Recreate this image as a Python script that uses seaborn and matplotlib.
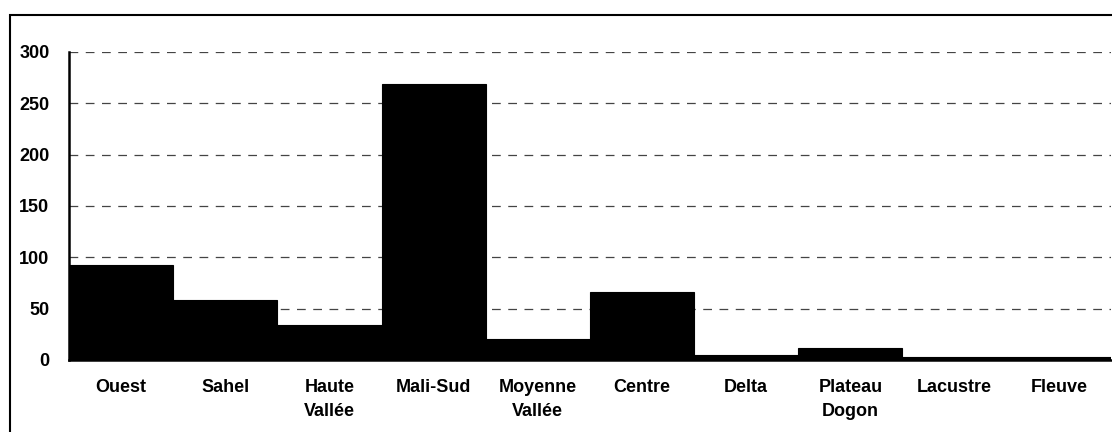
import matplotlib
matplotlib.use("Agg")
import matplotlib.pyplot as plt
import matplotlib.patches as patches
import numpy as np
import pandas as pd
import seaborn as sns

# Data
regions = ["Ouest", "Sahel", "Haute\nVallée", "Mali-Sud", "Moyenne\nVallée",
           "Centre", "Delta", "Plateau\nDogon", "Lacustre", "Fleuve"]
counts = [92, 58, 34, 269, 20, 66, 5, 12, 3, 3]
y_ticks = [0, 50, 100, 150, 200, 250, 300]

sns.set_theme(style="white")
plt.rcParams['font.family'] = ['Liberation Sans', 'DejaVu Sans']
plt.rcParams['text.color'] = 'black'
plt.rcParams['xtick.color'] = 'black'
plt.rcParams['ytick.color'] = 'black'

df = pd.DataFrame({"region": regions, "count": counts})

fig = plt.figure(figsize=(11.12, 4.32), dpi=100)
ax = fig.add_axes([0.062, 0.167, 0.937, 0.713])

sns.barplot(data=df, x="region", y="count", color="black", saturation=1,
            width=1.0, ax=ax, edgecolor="black", linewidth=0.8)

ax.set_ylim(0, 300)
ax.set_xlim(-0.5, len(regions) - 0.5)
ax.set_yticks(y_ticks)
ax.set_yticklabels([str(v) for v in y_ticks], fontsize=13, fontweight="bold")
ax.set_xticks(range(len(regions)))
ax.set_xticklabels(regions, fontsize=13, fontweight="bold", linespacing=1.55)
ax.set_xticks(np.arange(-0.5, len(regions), 1.0), minor=True)
ax.tick_params(axis="x", which="major", length=0, pad=14)
ax.tick_params(axis="x", which="minor", length=4, width=1.2, direction="out", color="black")
ax.tick_params(axis="y", which="major", length=4, width=1.2, direction="out", color="black", pad=10)
ax.set_xlabel("")
ax.set_ylabel("")

ax.yaxis.grid(True, linestyle=(0, (7, 6)), color="#444444", linewidth=0.9)
ax.set_axisbelow(True)
for side in ["top", "right"]:
    ax.spines[side].set_visible(False)
for side in ["left", "bottom"]:
    ax.spines[side].set_color("black")
    ax.spines[side].set_linewidth(1.8)

# outer frame around the chart area
frame = patches.Rectangle((10 / 1112, -0.05), 1.2, 1 - 15 / 432 + 0.05,
                          transform=fig.transFigure, fill=False,
                          edgecolor="black", linewidth=1.5, clip_on=False)
fig.patches.append(frame)

fig.savefig("out.png", dpi=100)
